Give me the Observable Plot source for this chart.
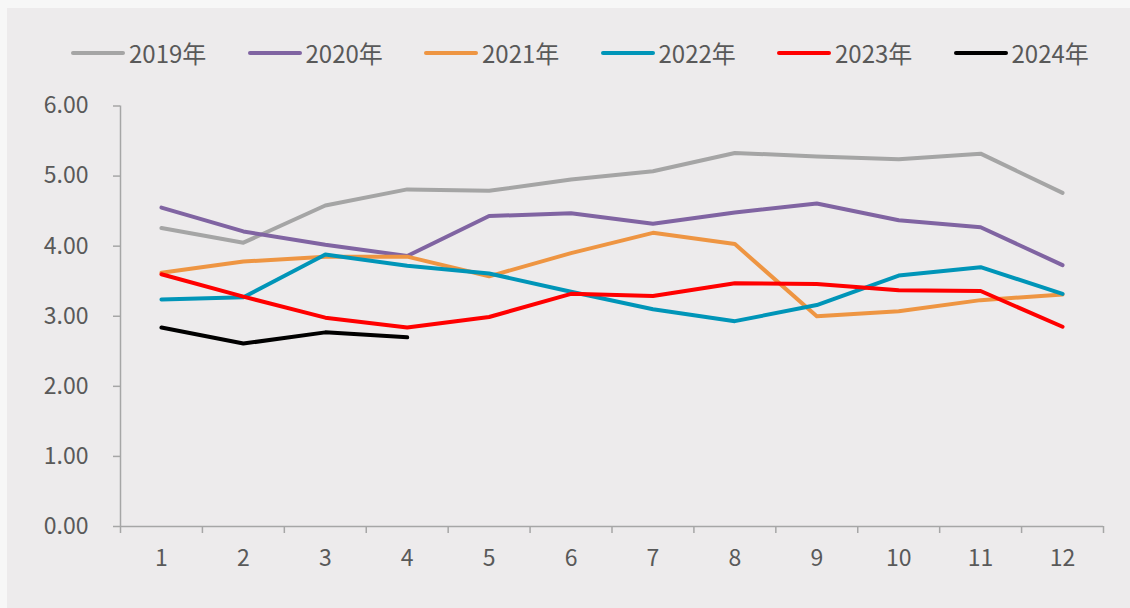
<!DOCTYPE html>
<html>
<head>
<meta charset="utf-8">
<script src="https://cdn.jsdelivr.net/npm/d3@7"></script>
<script src="https://cdn.jsdelivr.net/npm/@observablehq/plot@0.6"></script>
<style>
  html, body { margin: 0; padding: 0; background: #f7f7f7; }
  #panel { position: absolute; left: 7px; top: 8px; width: 1123px; height: 600px; background: #edebec; overflow: hidden;
           font-family: "Noto Sans CJK SC", "Noto Sans", sans-serif; color: #595959; }
  #legend { height: 60px; display: flex; padding-left: 64px; box-sizing: border-box; align-items: center; padding-top: 30px; }
  .item { width: 179px; display: flex; align-items: center; font-size: 24px; line-height: 30px; }
  .sw { width: 54px; height: 4px; border-radius: 2px; margin-right: 4px; }
  svg { display: block; }
</style>
</head>
<body>
<div id="panel">
  <div id="legend"></div>
  <div id="chart"></div>
</div>
<script>
const months = [1,2,3,4,5,6,7,8,9,10,11,12];
const seriesNames = ["2019年","2020年","2021年","2022年","2023年","2024年"];
const colors = ["#a5a5a5","#8064a2","#ee9542","#0095b8","#ff0000","#000000"];
const yTicks = [0,1,2,3,4,5,6];

const v2019 = [4.26,4.05,4.58,4.81,4.79,4.95,5.07,5.33,5.28,5.24,5.32,4.76];
const v2020 = [4.55,4.21,4.02,3.86,4.43,4.47,4.32,4.48,4.61,4.37,4.27,3.73];
const v2021 = [3.62,3.78,3.85,3.85,3.57,3.90,4.19,4.03,3.00,3.07,3.23,3.31];
const v2022 = [3.24,3.27,3.88,3.72,3.61,3.35,3.10,2.93,3.16,3.58,3.70,3.32];
const v2023 = [3.60,3.28,2.98,2.84,2.99,3.32,3.29,3.47,3.46,3.37,3.36,2.85];
const v2024 = [2.84,2.61,2.77,2.70];

const allValues = [v2019, v2020, v2021, v2022, v2023, v2024];
const data = [];
allValues.forEach((vals, i) => vals.forEach((v, j) => data.push({series: seriesNames[i], month: months[j], value: v})));

const bounds = [0, ...months].map(m => m + 0.5);

// legend
const legend = document.getElementById("legend");
seriesNames.forEach((name, i) => {
  const it = document.createElement("div");
  it.className = "item";
  it.innerHTML = `<span class="sw" style="background:${colors[i]}"></span><span>${name}</span>`;
  legend.appendChild(it);
});

const axisColor = "#a6a6a6";
const chart = Plot.plot({
  width: 1123,
  height: 540,
  marginLeft: 113,
  marginRight: 27,
  marginTop: 37.5,
  marginBottom: 82,
  style: {background: "transparent", fontFamily: "'Noto Sans CJK SC', 'Noto Sans', sans-serif", fontSize: "23px", color: "#595959"},
  x: {domain: [0.5, 12.5]},
  y: {domain: [0, 6]},
  color: {domain: seriesNames, range: colors},
  marks: [
    Plot.ruleX([0.5], {stroke: axisColor, strokeWidth: 1.5}),
    Plot.ruleY([0], {stroke: axisColor, strokeWidth: 1.5}),
    Plot.axisY({ticks: yTicks, tickFormat: d3.format(".2f"), tickSize: 7, tickPadding: 25, stroke: axisColor, strokeWidth: 1.5, label: null, fill: "#595959", fontSize: 23}),
    Plot.axisX({ticks: bounds, tickFormat: () => "", tickSize: 7, stroke: axisColor, strokeWidth: 1.5, label: null}),
    Plot.axisX({ticks: months, tickFormat: d => String(d), tickSize: 0, tickPadding: 23, label: null, fill: "#595959", fontSize: 23}),
    Plot.line(data, {x: "month", y: "value", z: "series", stroke: "series", strokeWidth: 4, strokeLinejoin: "round", strokeLinecap: "round"})
  ]
});
document.getElementById("chart").appendChild(chart);
</script>
</body>
</html>
